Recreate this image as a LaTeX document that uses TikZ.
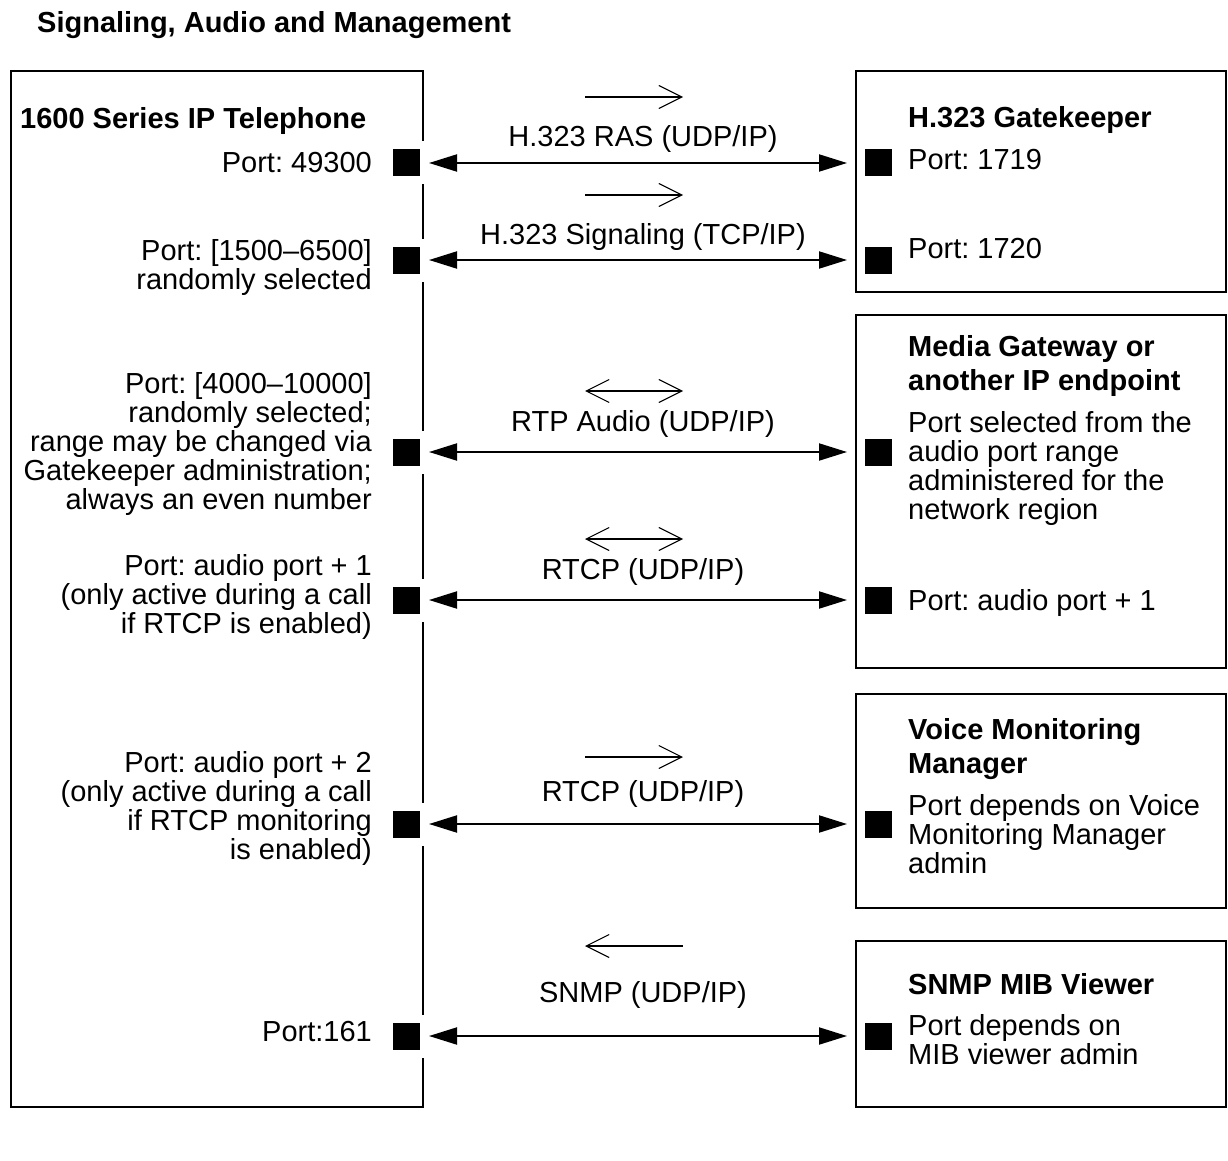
\documentclass[tikz,border=0pt]{standalone}
\usepackage{fontspec}
\setmainfont{Liberation Sans}
\usetikzlibrary{arrows.meta,positioning}
\frenchspacing

\begin{document}
\begin{tikzpicture}[x=1pt,y=-1pt,>={Triangle[length=28pt,width=17pt]}]
        \tikzstyle{box}=[draw,line width=1.8pt,inner sep=0pt]
        \tikzstyle{port}=[fill=black,draw=white,line width=8pt,minimum size=35pt,inner sep=0pt,outer sep=0pt]
        \tikzstyle{txt}=[font=\fontsize{29}{29}\selectfont,inner sep=0pt]
        \tikzstyle{head}=[font=\fontsize{29}{34}\selectfont\bfseries,inner sep=0pt]
        \tikzstyle{link}=[<->,line width=2pt,shorten <=5.5pt,shorten >=13.5pt]
        \tikzstyle{fw}=[line width=1.1pt,-{Straight Barb[length=23pt,width=23pt]}]
        \tikzstyle{bw}=[line width=1.1pt,{Straight Barb[length=23pt,width=23pt]}-]
        \tikzstyle{bi}=[line width=1.1pt,{Straight Barb[length=23pt,width=23pt]}-{Straight Barb[length=23pt,width=23pt]}]
        \useasboundingbox (0,0) rectangle (1228,1161);
        \node[head,anchor=west] (title) at (37,25) {Signaling, Audio and Management};
        % ports on the far side
        \foreach \n/\y in {1/163,2/260,3/452,4/600,5/824,6/1036}
            \node[port] (r\n) at (878,\y) {};
        \node[box,minimum width=412pt,minimum height=1036pt] (phone) at (217,589) {};
        \node[box,minimum width=370pt,minimum height=221pt] (gk) at (1041,181.5) {};
        \node[box,minimum width=370pt,minimum height=353pt] (mgw) at (1041,491.5) {};
        \node[box,minimum width=370pt,minimum height=214pt] (vmm) at (1041,801) {};
        \node[box,minimum width=370pt,minimum height=166pt] (mib) at (1041,1024) {};
        % ports on the phone
        \foreach \n/\y in {1/163,2/260,3/452,4/600,5/824,6/1036}
            \node[port] (l\n) at (406,\y) {};
        % phone side
        \node[head,anchor=west] (phonehd) at (20,121) {1600 Series IP Telephone};
        \node[txt,anchor=east,align=right] (lt1) at (372,163) {Port: 49300};
        \node[txt,anchor=east,align=right] (lt2) at (372,268) {Port: [1500–6500]\\randomly selected};
        \node[txt,anchor=east,align=right] (lt3) at (372,444) {Port: [4000–10000]\\randomly selected;\\range may be changed via\\Gatekeeper administration;\\always an even number};
        \node[txt,anchor=east,align=right] (lt4) at (372,597) {Port: audio port + 1\\(only active during a call\\if RTCP is enabled)};
        \node[txt,anchor=east,align=right] (lt5) at (372,808) {Port: audio port + 2\\(only active during a call\\if RTCP monitoring\\is enabled)};
        \node[txt,anchor=east,align=right] (lt6) at (372,1032) {Port:161};
        % far side
        \node[head,anchor=west] (gkhd) at (908,120) {H.323 Gatekeeper};
        \node[txt,anchor=west] (rt1) at (908,160) {Port: 1719};
        \node[txt,anchor=west] (rt2) at (908,249) {Port: 1720};
        \node[head,anchor=west,align=left] (mgwhd) at (908,366) {Media Gateway or\\another IP endpoint};
        \node[txt,anchor=west,align=left] (rt3) at (908,468) {Port selected from the\\audio port range\\administered for the\\network region};
        \node[txt,anchor=west] (rt4) at (908,603) {Port: audio port + 1};
        \node[head,anchor=west,align=left] (vmmhd) at (908,749) {Voice Monitoring\\Manager};
        \node[txt,anchor=west,align=left] (rt5) at (908,834) {Port depends on Voice\\Monitoring Manager\\admin};
        \node[head,anchor=west] (mibhd) at (908,984) {SNMP MIB Viewer};
        \node[txt,anchor=west,align=left] (rt6) at (908,1040) {Port depends on\\MIB viewer admin};
        % protocols
        \node[txt] (lab1) at (643,139) {H.323 RAS (UDP/IP)};
        \node[txt] (lab2) at (643,237) {H.323 Signaling (TCP/IP)};
        \node[txt] (lab3) at (643,424) {RTP Audio (UDP/IP)};
        \node[txt] (lab4) at (643,572) {RTCP (UDP/IP)};
        \node[txt] (lab5) at (643,794) {RTCP (UDP/IP)};
        \node[txt] (lab6) at (643,995) {SNMP (UDP/IP)};
        \foreach \n in {1,...,6}
            \draw[link] (l\n) -- (r\n);
        % direction of set-up
        \foreach \y/\s in {97/fw,195/fw,391/bi,539/bi,757/fw,946/bw}
            \draw[\s] (585,\y) -- (683,\y);
\end{tikzpicture}
\end{document}
